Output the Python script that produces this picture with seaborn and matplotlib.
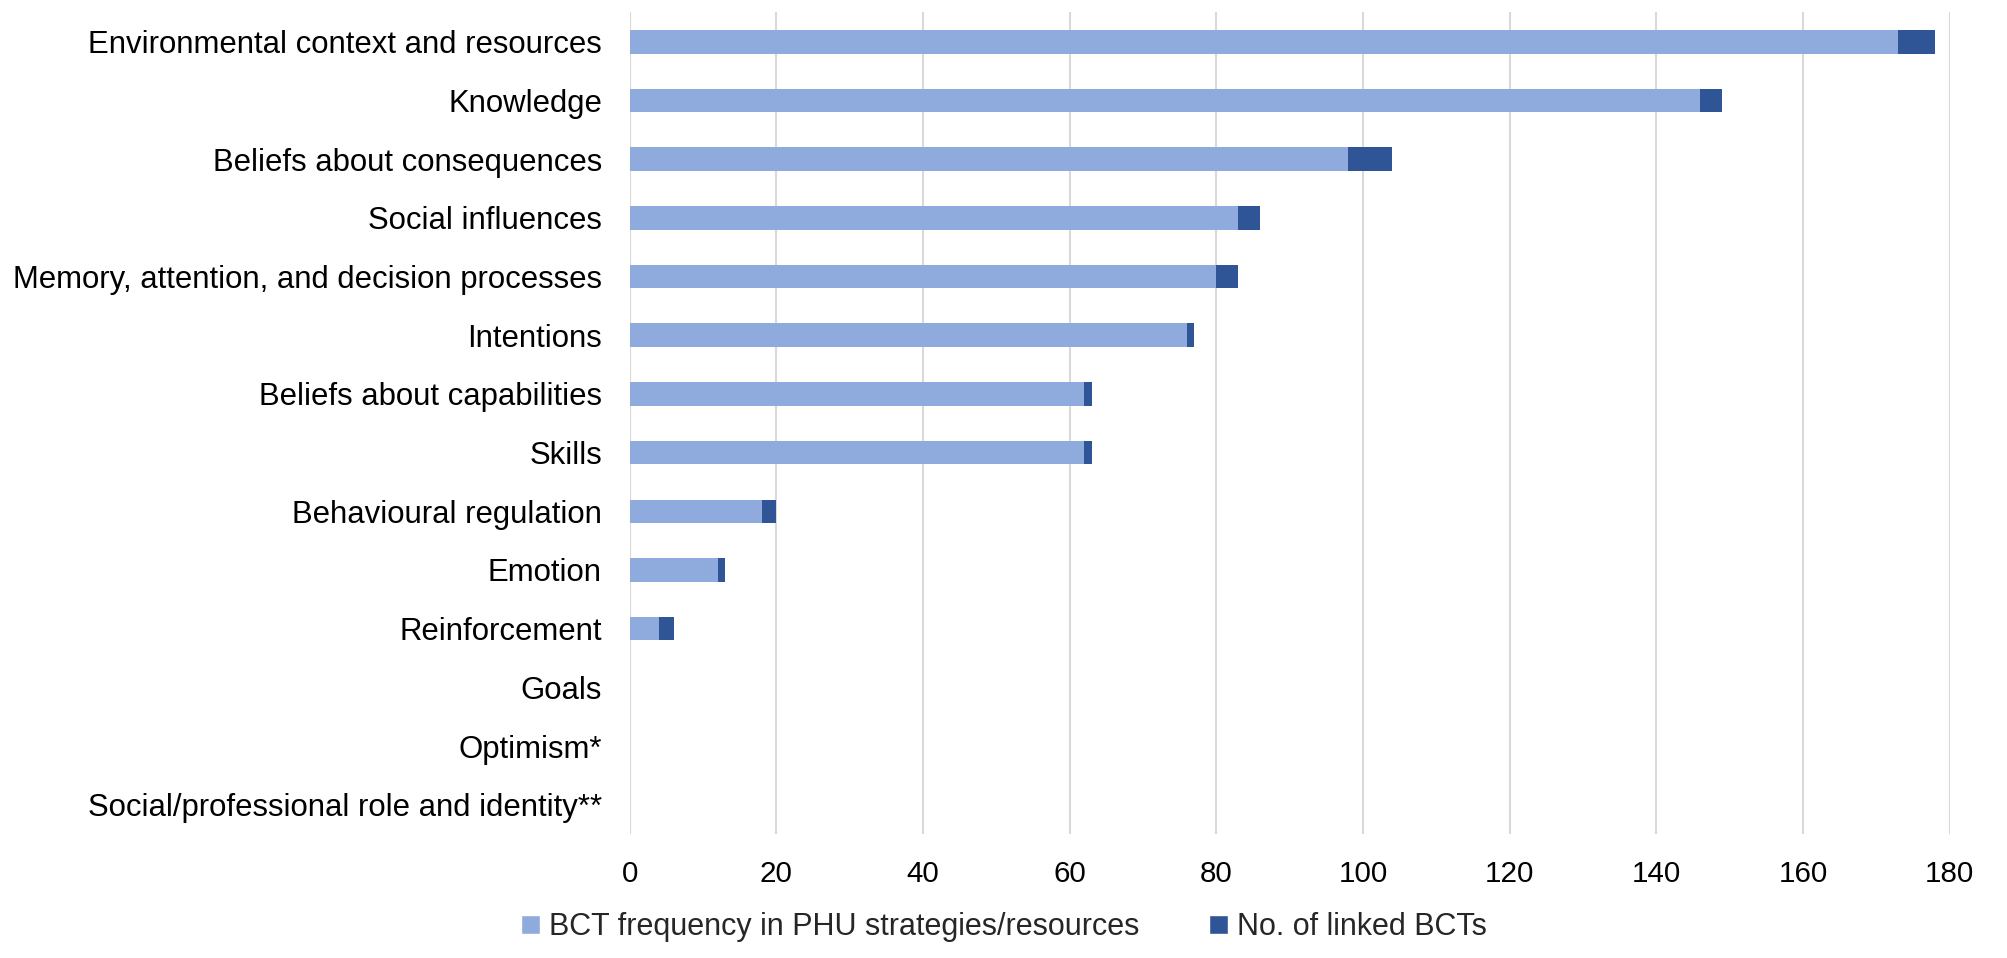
import pandas as pd
import seaborn as sns
import matplotlib.pyplot as plt
from matplotlib.patches import Patch

# domains, top to bottom as in the chart
domains = [
    "Environmental context and resources",
    "Knowledge",
    "Beliefs about consequences",
    "Social influences",
    "Memory, attention, and decision processes",
    "Intentions",
    "Beliefs about capabilities",
    "Skills",
    "Behavioural regulation",
    "Emotion",
    "Reinforcement",
    "Goals",
    "Optimism*",
    "Social/professional role and identity**",
]
bct_frequency = [173, 146, 98, 83, 80, 76, 62, 62, 18, 12, 4, 0, 0, 0]
linked_bcts = [5, 3, 6, 3, 3, 1, 1, 1, 2, 1, 2, 0, 0, 0]
x_ticks = [0, 20, 40, 60, 80, 100, 120, 140, 160, 180]

light = "#8FAADC"
dark = "#2F5597"

df = pd.DataFrame({"domain": domains, "freq": bct_frequency, "linked": linked_bcts})
df["total"] = df["freq"] + df["linked"]

sns.set_style("white")
plt.rcParams['font.family'] = ['Liberation Sans', 'DejaVu Sans']

fig = plt.figure(figsize=(20.08, 9.58), dpi=100)
ax = fig.add_axes([0.3136, 0.1294, 0.9710 - 0.3136, 0.987 - 0.1294])

# stacked bars: draw total in dark first, then the frequency part on top
sns.barplot(data=df, x="total", y="domain", color=dark, width=0.4,
            saturation=1, edgecolor="none", linewidth=0, ax=ax)
sns.barplot(data=df, x="freq", y="domain", color=light, width=0.4,
            saturation=1, edgecolor="none", linewidth=0, ax=ax)

ax.set_xlim(0, 180)
ax.set_xticks(x_ticks)
ax.set_xlabel("")
ax.set_ylabel("")
ax.grid(axis="x", color="#D9D9D9", linewidth=1.5)
ax.set_axisbelow(True)
for s in ax.spines.values():
    s.set_visible(False)
ax.tick_params(axis="y", length=0, pad=20, labelsize=22.4, labelcolor="black")
ax.tick_params(axis="x", length=0, pad=19, labelsize=21.3, labelcolor="black")

handles = [Patch(facecolor=light, label="BCT frequency in PHU strategies/resources"),
           Patch(facecolor=dark, label="No. of linked BCTs")]
fig.legend(handles=handles, loc="center", bbox_to_anchor=(0.5, 0.032), ncol=2,
           frameon=False, fontsize=22, handlelength=0.6, handleheight=0.6,
           handletextpad=0.3, columnspacing=2.3)

fig.savefig("out.png", dpi=100)
